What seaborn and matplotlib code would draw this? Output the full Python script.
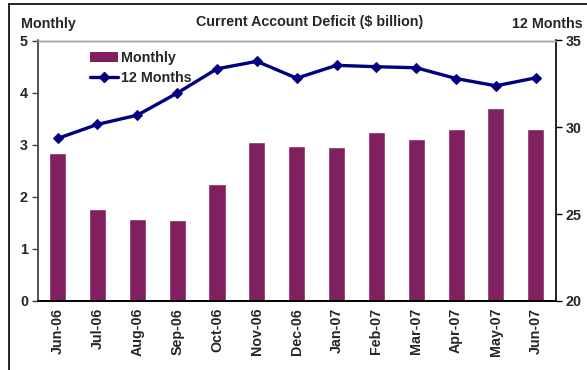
import matplotlib
matplotlib.use("Agg")
import matplotlib.pyplot as plt
from matplotlib.lines import Line2D
from matplotlib.patches import Patch
import seaborn as sns
import pandas as pd

months = ["Jun-06", "Jul-06", "Aug-06", "Sep-06", "Oct-06", "Nov-06", "Dec-06",
          "Jan-07", "Feb-07", "Mar-07", "Apr-07", "May-07", "Jun-07"]
monthly = [2.85, 1.76, 1.57, 1.55, 2.24, 3.05, 2.97, 2.95, 3.24, 3.10, 3.30, 3.70, 3.31]
twelve_months = [29.36, 30.17, 30.70, 31.97, 33.37, 33.80, 32.83, 33.57, 33.49, 33.43, 32.81, 32.39, 32.85]

bar_color = "#80205F"
line_color = "#000080"

sns.set_theme(style="white")
plt.rcParams["font.family"] = ["Liberation Sans", "DejaVu Sans"]
plt.rcParams["font.weight"] = "bold"

df = pd.DataFrame({"month": months, "monthly": monthly, "twelve": twelve_months})

fig = plt.figure(figsize=(5.87, 3.70), dpi=100)
ax = fig.add_axes([37.7 / 587, 69 / 370, (555.7 - 37.7) / 587, (301 - 40.5) / 370])

sns.barplot(data=df, x="month", y="monthly", color=bar_color, saturation=1,
            width=0.43, ax=ax, order=months)
ax.set_xlim(-0.5, len(months) - 0.5)
ax.set_ylim(0, 5)
ax.set_yticks([0, 1, 2, 3, 4, 5])
ax.set_xlabel("")
ax.set_ylabel("")
ax.set_xticks([i - 0.5 for i in range(len(months) + 1)], minor=False)
ax.set_xticklabels([""] * (len(months) + 1))
ax.set_xticks(range(len(months)), minor=True)
ax.set_xticklabels(months, minor=True, rotation=90, fontsize=10.3, fontweight="bold")
ax.tick_params(axis="x", which="major", direction="out", length=5, width=1, color="black")
ax.tick_params(axis="x", which="minor", length=0, pad=5)
ax.tick_params(axis="y", direction="out", length=4, width=1, color="#404040",
               labelsize=10.3, pad=3)
for lab in ax.get_yticklabels():
    lab.set_fontweight("bold")

ax2 = ax.twinx()
sns.lineplot(x=list(range(len(months))), y=twelve_months, ax=ax2, color=line_color,
             linewidth=2.4, marker="D", markersize=5.5, markeredgecolor=line_color)
ax2.set_ylim(20, 35)
ax2.set_yticks([20, 25, 30, 35])
ax2.tick_params(axis="y", direction="out", length=4, width=1, color="black",
                labelsize=10.3, pad=3)
for lab in ax2.get_yticklabels():
    lab.set_fontweight("bold")
ax2.set_xlim(-0.5, len(months) - 0.5)

for a in (ax, ax2):
    a.spines["top"].set_color("#a0a0a0")
    a.spines["top"].set_linewidth(1)
    a.spines["left"].set_color("#505050")
    a.spines["left"].set_linewidth(1.2)
    a.spines["right"].set_color("#202020")
    a.spines["right"].set_linewidth(1.2)
    a.spines["bottom"].set_color("black")
    a.spines["bottom"].set_linewidth(1.2)
    a.grid(False)

handles = [Patch(facecolor=bar_color, edgecolor="none"),
           Line2D([], [], color=line_color, linewidth=2.4, marker="D", markersize=5.5)]
leg = fig.legend(handles, ["Monthly", "12 Months"], loc="upper left",
                 bbox_to_anchor=(90 / 587, (370 - 51) / 370), frameon=False,
                 prop={"weight": "bold", "size": 10.3}, handlelength=1.95,
                 handletextpad=0.2, labelspacing=0.4, borderpad=0, borderaxespad=0)

fig.text(309.5 / 587, (370 - 22) / 370, "Current Account Deficit ($ billion)",
         ha="center", va="center", fontsize=10.3, fontweight="bold")
fig.text(21 / 587, (370 - 24) / 370, "Monthly", ha="left", va="center",
         fontsize=10.3, fontweight="bold")
fig.text(583 / 587, (370 - 24) / 370, "12 Months", ha="right", va="center",
         fontsize=10.3, fontweight="bold")

# outer frame (top and left edges)
fig.add_artist(Line2D([8.5 / 587, 1.0], [1 - 3.5 / 370, 1 - 3.5 / 370],
                      transform=fig.transFigure, color="black", linewidth=1.2))
fig.add_artist(Line2D([8.5 / 587, 8.5 / 587], [0, 1 - 3.5 / 370],
                      transform=fig.transFigure, color="black", linewidth=1.2))

fig.savefig("out.png", dpi=100)
